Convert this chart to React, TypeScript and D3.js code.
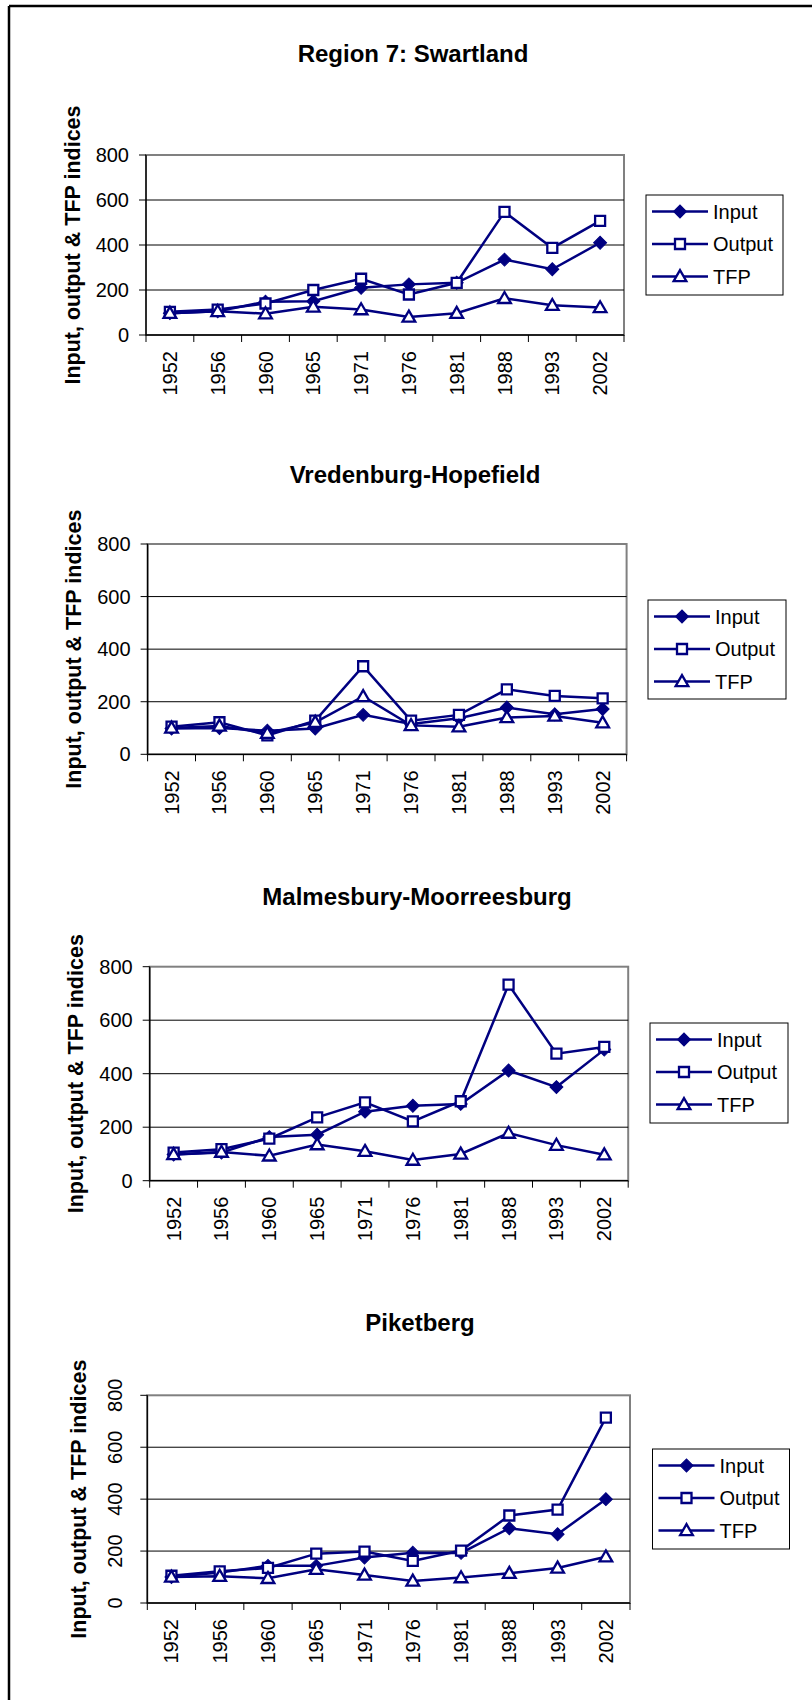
import React from 'react';
import * as d3 from 'd3';

// x categories
const years = ['1952', '1956', '1960', '1965', '1971', '1976', '1981', '1988', '1993', '2002'];
const yTicks = [0, 200, 400, 600, 800];
const seriesNames = ['Input', 'Output', 'TFP'];

// Region 7: Swartland
const swartlandInput = [97, 105, 148, 150, 210, 225, 232, 335, 292, 410];
const swartlandOutput = [103, 113, 140, 200, 250, 180, 232, 547, 387, 507];
const swartlandTfp = [97, 105, 95, 125, 113, 80, 97, 163, 132, 122];

// Vredenburg-Hopefield
const vredenburgInput = [98, 100, 90, 98, 150, 115, 137, 178, 152, 172];
const vredenburgOutput = [105, 122, 72, 128, 335, 128, 150, 247, 222, 213];
const vredenburgTfp = [100, 108, 80, 122, 220, 110, 105, 140, 146, 120];

// Malmesbury-Moorreesburg
const malmesburyInput = [98, 105, 163, 172, 258, 280, 287, 412, 350, 490];
const malmesburyOutput = [105, 118, 157, 237, 293, 222, 297, 733, 475, 500];
const malmesburyTfp = [98, 107, 93, 135, 110, 77, 100, 178, 133, 97];

// Piketberg
const piketbergInput = [100, 117, 143, 143, 175, 194, 193, 288, 265, 400];
const piketbergOutput = [105, 122, 135, 190, 198, 162, 202, 337, 360, 714];
const piketbergTfp = [100, 103, 95, 130, 108, 85, 98, 115, 135, 178];

const NAVY = '#000080';
const FONT = 'Arial, "Liberation Sans", sans-serif';

const markerPath = (kind: string) => {
  if (kind === 'Input') return d3.symbol().type(d3.symbolSquare).size(84)() as string;
  if (kind === 'Output') return d3.symbol().type(d3.symbolSquare).size(100)() as string;
  return d3.symbol().type(d3.symbolTriangle).size(70)() as string;
};

const Marker = ({ kind, x, y }: { kind: string; x: number; y: number }) => {
  if (kind === 'Input') {
    return <path d={markerPath(kind)} transform={`translate(${x},${y}) rotate(45)`} fill={NAVY} stroke={NAVY} strokeWidth={1} />;
  }
  return <path d={markerPath(kind)} transform={`translate(${x},${y + (kind === 'TFP' ? 1 : 0)})`} fill="#fff" stroke={NAVY} strokeWidth={2.3} />;
};

type Layout = {
  x0: number; x1: number; y0: number; y1: number;
  lx: number; ly: number; lw: number; lh: number;
  tx: number; ty: number; labelX: number; rotTicks?: boolean;
};

const Panel = ({ title, series, lay }: { title: string; series: number[][]; lay: Layout }) => {
  const x = d3.scaleBand().domain(years).range([lay.x0, lay.x1]);
  const y = d3.scaleLinear().domain([0, 800]).range([lay.y1, lay.y0]);
  const line = d3.line<number>()
    .x((d, i) => (x(years[i]) as number) + x.bandwidth() / 2)
    .y(d => y(d));
  const bounds = years.map(yr => x(yr) as number).concat([lay.x1]);
  const yMid = (lay.y0 + lay.y1) / 2;

  return (
    <g>
      <text x={lay.tx} y={lay.ty} textAnchor="middle" fontFamily={FONT} fontWeight="bold" fontSize={24}>{title}</text>
      <rect x={lay.x0} y={lay.y0} width={lay.x1 - lay.x0} height={lay.y1 - lay.y0} fill="#fff" stroke="#808080" strokeWidth={2} />
      {yTicks.filter(t => t > 0 && t < 800).map(t => (
        <line key={t} x1={lay.x0} x2={lay.x1} y1={y(t)} y2={y(t)} stroke="#000" strokeWidth={1} />
      ))}
      <line x1={lay.x0} x2={lay.x0} y1={lay.y0} y2={lay.y1} stroke="#000" strokeWidth={1.3} />
      <line x1={lay.x0} x2={lay.x1} y1={lay.y1} y2={lay.y1} stroke="#000" strokeWidth={1.3} />
      {yTicks.map(t => (
        <g key={t}>
          <line x1={lay.x0 - 7} x2={lay.x0} y1={y(t)} y2={y(t)} stroke="#000" strokeWidth={1} />
          {lay.rotTicks ? (
            <text transform={`translate(${lay.x0 - 32},${y(t)}) rotate(-90)`} textAnchor="middle" dominantBaseline="central" fontFamily={FONT} fontSize={20}>{t}</text>
          ) : (
            <text x={lay.x0 - 17} y={y(t)} textAnchor="end" dominantBaseline="central" fontFamily={FONT} fontSize={20}>{t}</text>
          )}
        </g>
      ))}
      {bounds.map((b, i) => (
        <line key={i} x1={b} x2={b} y1={lay.y1} y2={lay.y1 + 7} stroke="#000" strokeWidth={1} />
      ))}
      {years.map(yr => (
        <text key={yr} transform={`translate(${(x(yr) as number) + x.bandwidth() / 2},${lay.y1 + 16}) rotate(-90)`} textAnchor="end" dominantBaseline="central" fontFamily={FONT} fontSize={20}>{yr}</text>
      ))}
      <text transform={`translate(${lay.labelX},${yMid}) rotate(-90)`} textAnchor="middle" dominantBaseline="central" fontFamily={FONT} fontWeight="bold" fontSize={21.5}>Input, output &amp; TFP indices</text>
      {series.map((s, k) => (
        <path key={k} d={line(s) as string} fill="none" stroke={NAVY} strokeWidth={2.5} />
      ))}
      {series.map((s, k) => (
        <g key={k}>
          {s.map((v, i) => (
            <Marker key={i} kind={seriesNames[k]} x={(x(years[i]) as number) + x.bandwidth() / 2} y={y(v)} />
          ))}
        </g>
      ))}
      <rect x={lay.lx} y={lay.ly} width={lay.lw} height={lay.lh} fill="#fff" stroke="#000" strokeWidth={1} />
      {seriesNames.map((n, k) => {
        const ry = lay.ly + 16.5 + k * 32.5;
        return (
          <g key={n}>
            <line x1={lay.lx + 6} x2={lay.lx + 62} y1={ry} y2={ry} stroke={NAVY} strokeWidth={2.5} />
            <Marker kind={n} x={lay.lx + 34} y={ry} />
            <text x={lay.lx + 67} y={ry} dominantBaseline="central" fontFamily={FONT} fontSize={20}>{n}</text>
          </g>
        );
      })}
    </g>
  );
};

const layouts: Layout[] = [
  { x0: 146, x1: 624, y0: 155, y1: 335, lx: 646, ly: 195, lw: 137, lh: 100, tx: 413, ty: 62, labelX: 73 },
  { x0: 147.6, x1: 626.6, y0: 544, y1: 754.3, lx: 648, ly: 600, lw: 138, lh: 99, tx: 415, ty: 483, labelX: 74 },
  { x0: 149.7, x1: 628.2, y0: 966.7, y1: 1180.7, lx: 650, ly: 1023, lw: 138, lh: 100, tx: 417, ty: 905, labelX: 76 },
  { x0: 147.3, x1: 630, y0: 1395.3, y1: 1603, lx: 652.5, ly: 1449, lw: 137, lh: 100, tx: 420, ty: 1331, labelX: 79, rotTicks: true },
];

const App = () => {
  const panels = [
    { title: 'Region 7: Swartland', series: [swartlandInput, swartlandOutput, swartlandTfp] },
    { title: 'Vredenburg-Hopefield', series: [vredenburgInput, vredenburgOutput, vredenburgTfp] },
    { title: 'Malmesbury-Moorreesburg', series: [malmesburyInput, malmesburyOutput, malmesburyTfp] },
    { title: 'Piketberg', series: [piketbergInput, piketbergOutput, piketbergTfp] },
  ];
  return (
    <svg width={812} height={1700} style={{ position: 'absolute', left: 0, top: 0, background: '#fff' }}>
      <rect x={0} y={0} width={812} height={1700} fill="#fff" />
      <line x1={9} x2={812} y1={6} y2={6} stroke="#000" strokeWidth={2.5} />
      <line x1={9} x2={9} y1={6} y2={1700} stroke="#000" strokeWidth={2.5} />
      {panels.map((p, i) => (
        <Panel key={i} title={p.title} series={p.series} lay={layouts[i]} />
      ))}
    </svg>
  );
};

export default App;
